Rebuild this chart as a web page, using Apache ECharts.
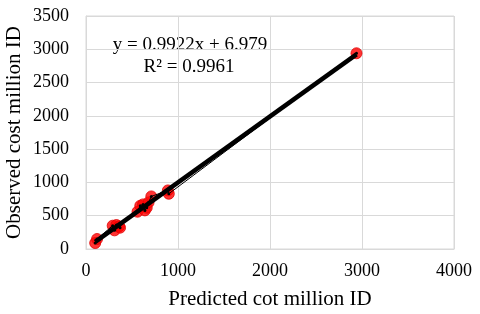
<!DOCTYPE html>
<html><head><meta charset="utf-8">
<script src="https://cdn.jsdelivr.net/npm/echarts@6/dist/echarts.min.js"></script>
<style>html,body{margin:0;padding:0;background:#fff}#c{width:480px;height:314px}</style>
</head><body><div id="c"></div>
<script>
var predicted = [100, 120, 290, 310, 330, 360, 370, 560, 590, 620, 640, 660, 680, 710, 890, 900, 2940];
var observed  = [90, 150, 350, 280, 360, 340, 320, 560, 650, 670, 580, 620, 700, 790, 880, 830, 2940];
var slope = 0.9922, intercept = 6.979;
var xTicks = [0, 1000, 2000, 3000, 4000];
var yTicks = [0, 500, 1000, 1500, 2000, 2500, 3000, 3500];

var pts = predicted.map(function(x, i){ return [x, observed[i]]; });
var sorted = pts.slice().sort(function(a,b){ return a[0]-b[0]; });
var xmin = Math.min.apply(null, predicted), xmax = Math.max.apply(null, predicted);
var trend = [[xmin, slope*xmin+intercept], [xmax, slope*xmax+intercept]];
var font = 'Liberation Serif';
var chart = echarts.init(document.getElementById('c'));
chart.setOption({
  animation: false,
  grid: {left: 86, right: 26, top: 16, bottom: 65, show: true, borderColor: '#d9d9d9', borderWidth: 1, containLabel: false, outerBoundsMode: 'none'},
  xAxis: {type: 'value', min: xTicks[0], max: xTicks[xTicks.length-1], interval: 1000,
    name: 'Predicted cot million ID', nameLocation: 'middle', nameGap: 40, nameMoveOverlap: false,
    nameTextStyle: {fontFamily: font, fontSize: 21, color: '#000'},
    axisLine: {show: true, lineStyle: {color: '#d9d9d9'}}, axisTick: {show: false},
    axisLabel: {fontFamily: font, fontSize: 18, color: '#000', margin: 13, formatter: function(v){ return String(v); }},
    splitLine: {show: true, lineStyle: {color: '#d9d9d9', width: 1}}},
  yAxis: {type: 'value', min: yTicks[0], max: yTicks[yTicks.length-1], interval: 500,
    name: 'Observed cost million ID', nameLocation: 'middle', nameGap: 61, nameMoveOverlap: false,
    nameTextStyle: {fontFamily: font, fontSize: 21, color: '#000'},
    axisLine: {show: true, lineStyle: {color: '#d9d9d9'}}, axisTick: {show: false},
    axisLabel: {fontFamily: font, fontSize: 18, color: '#000', margin: 17, formatter: function(v){ return String(v); }},
    splitLine: {show: true, lineStyle: {color: '#d9d9d9', width: 1}}},
  graphic: [
    {type: 'text', x: 190, y: 45, style: {text: 'y = 0.9922x + 6.979', fontFamily: font, fontSize: 19, fill: '#000', align: 'center', verticalAlign: 'middle'}},
    {type: 'text', x: 189, y: 67, style: {text: 'R² = 0.9961', fontFamily: font, fontSize: 19, fill: '#000', align: 'center', verticalAlign: 'middle'}}
  ],
  series: [
    {type: 'scatter', data: pts, symbolSize: 11, itemStyle: {color: '#ff0000', borderColor: '#e00000', borderWidth: 1}, z: 2},
    {type: 'line', data: sorted, symbol: 'circle', symbolSize: 3, itemStyle: {color: '#000'}, lineStyle: {color: '#000', width: 1}, z: 3},
    {type: 'line', data: trend, symbol: 'none', lineStyle: {color: '#000', width: 4.5}, z: 4}
  ]
});
</script></body></html>
